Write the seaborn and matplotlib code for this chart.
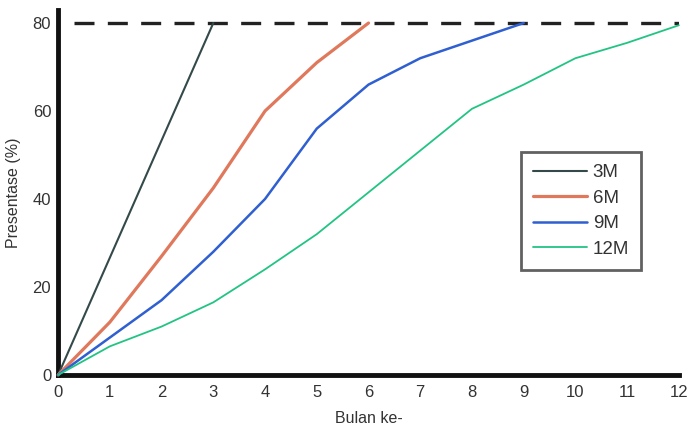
import numpy as np
import pandas as pd
import matplotlib
matplotlib.use("Agg")
import matplotlib.pyplot as plt
import seaborn as sns

# data (x = bulan ke-, y = presentase %)
bulan_3m = [0, 3]
pres_3m = [0, 80]
bulan_6m = [0, 1, 2, 3, 4, 5, 6]
pres_6m = [0, 12, 27, 42.5, 60, 71, 80]
bulan_9m = [0, 1, 2, 3, 4, 5, 6, 7, 8, 9]
pres_9m = [0, 8.5, 17, 28, 40, 56, 66, 72, 76, 80]
bulan_12m = [0, 1, 2, 3, 4, 5, 6, 7, 8, 9, 10, 11, 12]
pres_12m = [0, 6.5, 11, 16.5, 24, 32, 41.5, 51, 60.5, 66, 72, 75.5, 79.5]
target = 80
labels = ["3M", "6M", "9M", "12M"]

series = [(bulan_3m, pres_3m), (bulan_6m, pres_6m), (bulan_9m, pres_9m), (bulan_12m, pres_12m)]
colors = ["#34494a", "#e0785c", "#2f5fd0", "#22c483"]
widths = [1.5, 2.3, 1.8, 1.3]

sns.set_style("white")
plt.rcParams["font.family"] = ["Liberation Sans", "DejaVu Sans"]

fig = plt.figure(figsize=(6.92, 4.28), dpi=100)
ax = fig.add_axes([0.084, 0.124, 0.897, 0.853])

for (xs, ys), lab, c, lw in zip(series, labels, colors, widths):
    df = pd.DataFrame({"bulan": xs, "pres": ys})
    sns.lineplot(data=df, x="bulan", y="pres", ax=ax, color=c, linewidth=lw,
                 label=lab, clip_on=False, zorder=3)

ax.hlines(target, 0.3, 12, colors="#222222", linestyles=(0, (6, 4)), linewidth=2.4, zorder=2)

ax.set_xlim(0, 12)
ax.set_ylim(0, 83)
ax.set_xticks(range(0, 13))
ax.set_yticks([0, 20, 40, 60, 80])
ax.tick_params(axis="both", length=0, labelsize=12, labelcolor="#333333")
ax.tick_params(axis="x", pad=7)
ax.tick_params(axis="y", pad=5)

for side in ["top", "right"]:
    ax.spines[side].set_visible(False)
for side in ["left", "bottom"]:
    ax.spines[side].set_linewidth(3.5)
    ax.spines[side].set_color("#111111")

ax.set_xlabel("Bulan ke-", fontsize=11.5, color="#333333", labelpad=8)
ax.set_ylabel("Presentase (%)", fontsize=11.5, color="#333333", labelpad=8)

leg = ax.legend(loc="upper left", bbox_to_anchor=(0.745, 0.611), borderaxespad=0,
                fontsize=13.5, fancybox=False, frameon=True, handlelength=2.9,
                handletextpad=0.3, labelspacing=0.45, borderpad=0.65)
leg.get_frame().set_edgecolor("#3a3a3a")
leg.get_frame().set_linewidth(2)
for t in leg.get_texts():
    t.set_color("#333333")

fig.savefig("out.png", dpi=100)
